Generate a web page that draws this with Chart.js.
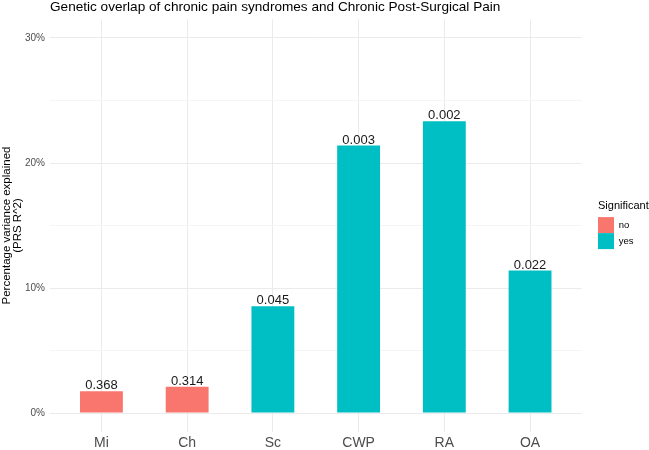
<!DOCTYPE html>
<html>
<head>
<meta charset="utf-8">
<script src="https://cdn.jsdelivr.net/npm/chart.js@4"></script>
<style>
  body { margin: 0; background: #fff; }
</style>
</head>
<body>
<canvas id="miGrafico" width="649" height="450"></canvas>
<script>
// datos
const categorias = ['Mi', 'Ch', 'Sc', 'CWP', 'RA', 'OA'];
const varianza = [1.74, 2.1, 8.55, 21.4, 23.35, 11.4];
const valoresP = ['0.368', '0.314', '0.045', '0.003', '0.002', '0.022'];
const significativo = ['no', 'no', 'yes', 'yes', 'yes', 'yes'];
const ticksY = [0, 5, 10, 15, 20, 25, 30];
const nivelesLeyenda = ['no', 'yes'];

const colores = { no: '#F8766D', yes: '#00BFC4' };
const fuente = '"Liberation Sans", Arial, sans-serif';

// etiquetas de p encima de cada barra
const etiquetasBarras = {
    id: 'etiquetasBarras',
    afterDatasetsDraw(chart) {
        const ctx = chart.ctx;
        const meta = chart.getDatasetMeta(0);
        ctx.save();
        ctx.font = '13px ' + fuente;
        ctx.fillStyle = '#1a1a1a';
        ctx.textAlign = 'center';
        ctx.textBaseline = 'alphabetic';
        meta.data.forEach((barra, i) => {
            ctx.fillText(valoresP[i], barra.x, barra.y - 2);
        });
        ctx.restore();
    }
};

// la leyenda recorta su caja, hay que darle mas ancho para el titulo
const anchoLeyenda = {
    id: 'anchoLeyenda',
    afterInit(chart) {
        const fitOriginal = chart.legend.fit;
        chart.legend.fit = function () {
            fitOriginal.call(this);
            this.width = 51;
        };
    }
};

const contenedor = document.getElementById('miGrafico').getContext('2d');
window.myCharts = new Chart(contenedor, {
    type: 'bar',
    data: {
        datasets: [{
            label: 'Significant',
            data: varianza.map((v, i) => ({ x: i + 1, y: v })),
            backgroundColor: significativo.map(s => colores[s]),
            borderWidth: 0,
            categoryPercentage: 1,
            barPercentage: 0.5
        }]
    },
    options: {
        responsive: false,
        animation: false,
        layout: { padding: { left: 0, right: 0, top: 0, bottom: 0 } },
        scales: {
            x: {
                type: 'linear',
                min: 0.4,
                max: 6.6,
                offset: false,
                afterBuildTicks: (eje) => {
                    eje.ticks = categorias.map((c, i) => ({ value: i + 1 }));
                },
                afterFit: (eje) => { eje.height = 18.25; },
                grid: { color: '#ebebeb', lineWidth: 1, drawTicks: false, offset: false },
                border: { display: false },
                ticks: {
                    autoSkip: false,
                    maxRotation: 0,
                    padding: 3,
                    color: '#4d4d4d',
                    font: { family: fuente, size: 14 },
                    callback: (v) => categorias[v - 1]
                }
            },
            y: {
                min: -1.5,
                max: 31.5,
                afterBuildTicks: (eje) => {
                    eje.ticks = ticksY.map(v => ({ value: v }));
                },
                afterFit: (eje) => { eje.width = 50; },
                grid: {
                    drawTicks: false,
                    color: (c) => (c.tick && c.tick.value % 10 === 0) ? '#ebebeb' : '#f5f5f5',
                    lineWidth: 1
                },
                border: { display: false },
                ticks: {
                    padding: 5,
                    color: '#4d4d4d',
                    font: { family: fuente, size: 10 },
                    callback: (v) => (v % 10 === 0 ? v + '%' : '')
                },
                title: {
                    display: true,
                    text: ['Percentage variance explained', '(PRS R^2)'],
                    color: '#000',
                    font: { family: fuente, size: 11.5, lineHeight: 1.0 },
                    padding: { top: 1, bottom: 0 }
                }
            },
            derecha: {
                type: 'linear',
                position: 'right',
                display: true,
                grid: { display: false },
                border: { display: false },
                ticks: { display: false },
                afterFit: (eje) => { eje.width = 16.5; }
            }
        },
        plugins: {
            title: {
                display: true,
                text: 'Genetic overlap of chronic pain syndromes and Chronic Post-Surgical Pain',
                align: 'start',
                fullSize: false,
                color: '#000',
                font: { family: fuente, size: 13.6, weight: 'normal', lineHeight: 1 },
                padding: { top: 0, bottom: 5.65 }
            },
            legend: {
                display: true,
                position: 'right',
                align: 'center',
                onClick: null,
                title: {
                    display: true,
                    text: 'Significant',
                    position: 'start',
                    color: '#000',
                    font: { family: fuente, size: 11 },
                    padding: { top: 0, bottom: 3 }
                },
                labels: {
                    boxWidth: 16,
                    boxHeight: 16,
                    padding: 0,
                    color: '#1a1a1a',
                    font: { family: fuente, size: 9.5 },
                    generateLabels: () => nivelesLeyenda.map(n => ({
                        text: n,
                        fillStyle: colores[n],
                        strokeStyle: colores[n],
                        lineWidth: 0,
                        hidden: false,
                        datasetIndex: 0
                    }))
                }
            },
            tooltip: { enabled: false }
        }
    },
    plugins: [etiquetasBarras, anchoLeyenda]
});
</script>
</body>
</html>
